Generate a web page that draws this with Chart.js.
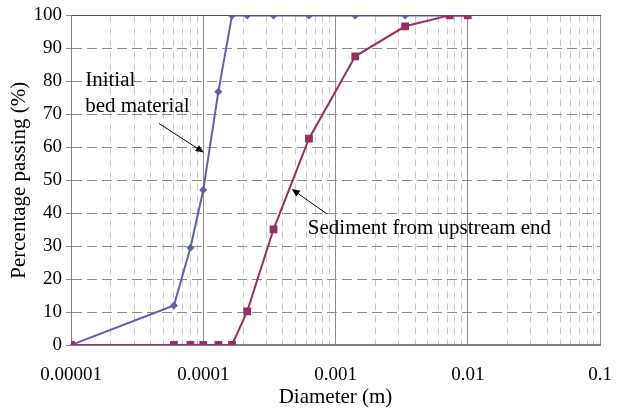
<!DOCTYPE html>
<html>
<head>
<meta charset="utf-8">
<script src="https://cdn.jsdelivr.net/npm/chart.js@4.4.1/dist/chart.umd.min.js"></script>
<style>
  html, body { margin: 0; padding: 0; background: #fff; }
  #wrap { width: 621px; height: 414px; }
</style>
</head>
<body>
<div id="wrap"><canvas id="myChart"></canvas></div>
<script>
  // sieve sizes (m) and percentage passing
  const diameters = [0.00001, 0.00006, 0.00008, 0.0001, 0.00013, 0.000165, 0.000215, 0.00034, 0.00063, 0.00141, 0.00336, 0.0073, 0.01];
  const initialBed = [0, 12, 29.5, 47, 76.8, 100, 100, 100, 100, 100, 100, 100, 100];
  const sediment = [0, 0, 0, 0, 0, 0, 10.2, 35.1, 62.6, 87.6, 96.7, 100, 100];

  const decades = [0.00001, 0.0001, 0.001, 0.01, 0.1];
  const decadeLabels = ['0.00001', '0.0001', '0.001', '0.01', '0.1'];

  const serif = 'Liberation Serif';

  function isDecade(v) {
    const l = Math.log10(v);
    return Math.abs(l - Math.round(l)) < 1e-9;
  }

  // all 1..9 x 10^k ticks for the dashed minor grid
  function minorTicks() {
    const t = [];
    for (let k = -5; k <= -2; k++) {
      for (let m = 1; m <= 9; m++) t.push({ value: m * Math.pow(10, k) });
    }
    t.push({ value: 0.1 });
    return t;
  }

  const toPoints = (ys) => diameters.map((d, i) => ({ x: d, y: ys[i] }));

  // text notes with arrows, placed in data space
  const notesPlugin = {
    id: 'notes',
    afterDatasetsDraw(chart) {
      const { ctx, scales: { x, y } } = chart;
      const px = (v) => x.getPixelForValue(v);
      const py = (v) => y.getPixelForValue(v);
      const notes = [
        { lines: ['Initial', 'bed material'], x: 1.28e-5, y: [80.4, 72.3], from: [4.63e-5, 67.2], to: [1.01e-4, 58.4] },
        { lines: ['Sediment from upstream end'], x: 6.18e-4, y: [35.2], from: [8.6e-4, 39.8], to: [4.67e-4, 47.3] }
      ];
      ctx.save();
      ctx.fillStyle = '#000';
      ctx.strokeStyle = '#000';
      ctx.font = '21px "' + serif + '"';
      ctx.textAlign = 'left';
      ctx.textBaseline = 'middle';
      notes.forEach(n => {
        n.lines.forEach((s, i) => ctx.fillText(s, px(n.x), py(n.y[i])));
        const x1 = px(n.from[0]), y1 = py(n.from[1]);
        const x2 = px(n.to[0]), y2 = py(n.to[1]);
        const a = Math.atan2(y2 - y1, x2 - x1);
        ctx.lineWidth = 1;
        ctx.beginPath();
        ctx.moveTo(x1, y1);
        ctx.lineTo(x2 - 5 * Math.cos(a), y2 - 5 * Math.sin(a));
        ctx.stroke();
        ctx.beginPath();
        ctx.moveTo(x2, y2);
        ctx.lineTo(x2 - 8 * Math.cos(a) + 3.5 * Math.sin(a), y2 - 8 * Math.sin(a) - 3.5 * Math.cos(a));
        ctx.lineTo(x2 - 8 * Math.cos(a) - 3.5 * Math.sin(a), y2 - 8 * Math.sin(a) + 3.5 * Math.cos(a));
        ctx.closePath();
        ctx.fill();
      });
      ctx.restore();
    }
  };

  const data = {
    datasets: [
      {
        label: 'Sediment from upstream end',
        data: toPoints(sediment),
        borderColor: '#9b2d62',
        backgroundColor: '#9b2d62',
        borderWidth: 2,
        pointStyle: 'rect',
        pointRadius: 5.5,
        pointBorderWidth: 0,
        order: 0
      },
      {
        label: 'Initial bed material',
        data: toPoints(initialBed),
        borderColor: '#5c61a8',
        backgroundColor: '#5c61a8',
        borderWidth: 2,
        pointStyle: 'rectRot',
        pointRadius: 4,
        pointBorderWidth: 0,
        order: 1
      }
    ]
  };

  const config = {
    type: 'line',
    data: data,
    plugins: [notesPlugin],
    options: {
      responsive: true,
      maintainAspectRatio: false,
      animation: false,
      layout: { padding: { top: 13, right: 21, left: 0, bottom: 0 } },
      plugins: { legend: { display: false }, tooltip: { enabled: false } },
      scales: {
        x: {
          type: 'logarithmic',
          position: 'bottom',
          min: 0.00001,
          max: 0.1,
          afterBuildTicks: (s) => { s.ticks = minorTicks(); },
          afterFit: (s) => { s.height = 69; s.paddingRight = 0; s.paddingLeft = 0; },
          grid: {
            color: (c) => (c.tick && isDecade(c.tick.value)) ? 'rgba(0,0,0,0)' : '#c8c8c8',
            drawTicks: false
          },
          border: { display: true, color: '#808080', width: 2, dash: [7, 5] },
          ticks: {
            autoSkip: false,
            maxRotation: 0,
            padding: 19,
            color: '#000',
            font: { family: serif, size: 19 },
            callback: (v) => {
              const i = decades.findIndex(d => Math.abs(d - v) / d < 1e-6);
              return i >= 0 ? decadeLabels[i] : '';
            }
          },
          title: {
            display: true,
            text: 'Diameter (m)',
            color: '#000',
            font: { family: serif, size: 21 },
            padding: { top: 0, bottom: 4 }
          }
        },
        x2: {
          type: 'logarithmic',
          position: 'top',
          min: 0.00001,
          max: 0.1,
          afterBuildTicks: (s) => { s.ticks = decades.map(v => ({ value: v })); },
          afterFit: (s) => { s.height = 0; s.paddingRight = 0; s.paddingLeft = 0; },
          grid: { color: '#8e8e8e', drawTicks: false },
          border: { display: true, color: '#505050', width: 1 },
          ticks: { display: false }
        },
        y: {
          min: 0,
          max: 100,
          afterFit: (s) => { s.width = 71; },
          grid: { color: '#8a8a8a', tickLength: 5, tickColor: '#8a8a8a' },
          border: { display: true, color: '#808080', width: 1, dash: [10, 5] },
          ticks: {
            stepSize: 10,
            padding: 4,
            color: '#000',
            font: { family: serif, size: 19 }
          },
          title: {
            display: true,
            text: 'Percentage passing (%)',
            color: '#000',
            font: { family: serif, size: 21 },
            padding: { top: 7, bottom: 0 }
          }
        }
      }
    }
  };

  const myChart = new Chart(document.getElementById('myChart'), config);
</script>
</body>
</html>
